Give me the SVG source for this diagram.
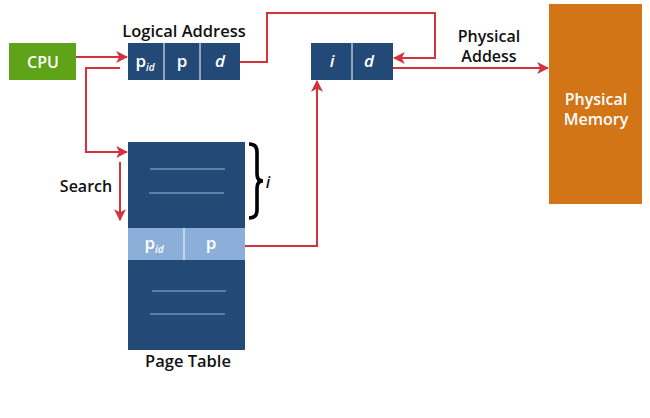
<svg xmlns="http://www.w3.org/2000/svg" width="650" height="418" viewBox="0 0 650 418">
<defs>
<style>
.t{font-family:"Open Sans","Liberation Sans",sans-serif;font-weight:600;fill:#111}
.w{font-family:"Open Sans","Liberation Sans",sans-serif;font-weight:600;fill:#fff}
.dk{fill:#234a76}
.ln{stroke:#d3333d;stroke-width:2;fill:none}
.sep{stroke:#9ab4d4;stroke-width:1.2}
</style>
<marker id="ah" viewBox="0 0 10 10" refX="9" refY="5" markerWidth="12" markerHeight="12" markerUnits="userSpaceOnUse" orient="auto">
<path d="M0,0 L10,5 L0,10 L2.5,5 Z" fill="#d3333d"/>
</marker>
</defs>
<rect width="650" height="418" fill="#fff"/>
<g id="cpu">
<rect x="9" y="43" width="67" height="37" fill="#5fa318"/>
<text class="w" x="43" y="68" font-size="16" text-anchor="middle">CPU</text>
</g>
<g id="logical">
<text class="t" x="184" y="37" font-size="16.5" text-anchor="middle">Logical Address</text>
<rect class="dk" x="128" y="43" width="112" height="37"/>
<line x1="164" y1="43" x2="164" y2="80" stroke="#fff" stroke-width="1"/>
<line x1="200" y1="43" x2="200" y2="80" stroke="#fff" stroke-width="1"/>
<text class="w" x="145" y="67" font-size="17" text-anchor="middle">p<tspan font-size="10" font-style="italic" dy="4">id</tspan></text>
<text class="w" x="182" y="67" font-size="17" text-anchor="middle">p</text>
<text class="w" x="220" y="67" font-size="17" font-style="italic" text-anchor="middle">d</text>
</g>
<g id="physaddr">
<rect class="dk" x="311" y="43" width="82" height="37"/>
<line x1="352" y1="43" x2="352" y2="80" stroke="#fff" stroke-width="1"/>
<text class="w" x="332" y="67" font-size="17" font-style="italic" text-anchor="middle">i</text>
<text class="w" x="369" y="67" font-size="17" font-style="italic" text-anchor="middle">d</text>
<text class="t" x="489" y="42" font-size="16" text-anchor="middle">Physical</text>
<text class="t" x="489" y="62" font-size="16" text-anchor="middle">Addess</text>
</g>
<g id="memory">
<rect x="549" y="4" width="93" height="200" fill="#d27517"/>
<text class="w" x="596" y="105" font-size="16" text-anchor="middle">Physical</text>
<text class="w" x="596" y="125" font-size="16" text-anchor="middle">Memory</text>
</g>
<g id="pagetable">
<rect class="dk" x="128" y="142" width="117" height="208"/>
<rect x="128" y="228" width="117" height="32" fill="#8bafd9"/>
<line x1="184" y1="228" x2="184" y2="260" stroke="#fff" stroke-width="1"/>
<line class="sep" x1="150" y1="169" x2="225" y2="169"/>
<line class="sep" x1="149" y1="193" x2="224" y2="193"/>
<line class="sep" x1="152" y1="291" x2="226" y2="291"/>
<line class="sep" x1="150" y1="314" x2="225" y2="314"/>
<text class="w" x="154" y="249" font-size="17" text-anchor="middle">p<tspan font-size="10" font-style="italic" dy="4">id</tspan></text>
<text class="w" x="211" y="249" font-size="17" text-anchor="middle">p</text>
<text class="t" x="188" y="367" font-size="16.5" text-anchor="middle">Page Table</text>
</g>
<g id="brace">
<path d="M249,144 Q257,144 257,152 L257,174 Q257,181 263,181 Q257,181 257,188 L257,210 Q257,218 249,218" fill="none" stroke="#000" stroke-width="3.6"/>
<text class="t" x="268" y="188" font-size="16" font-style="italic" text-anchor="middle">i</text>
</g>
<g id="search">
<text class="t" x="86" y="192" font-size="16" text-anchor="middle">Search</text>
</g>
<g id="connectors">
<line class="ln" x1="76" y1="57" x2="127" y2="57" marker-end="url(#ah)"/>
<polyline class="ln" points="120,68 86,68 86,152 127,152" marker-end="url(#ah)"/>
<polyline class="ln" points="240,62 267,62 267,13 435,13 435,58 394,58" marker-end="url(#ah)"/>
<line class="ln" x1="393" y1="68" x2="548" y2="68" marker-end="url(#ah)"/>
<polyline class="ln" points="245,246 317,246 317,81" marker-end="url(#ah)"/>
<line class="ln" x1="120" y1="162" x2="120" y2="220" marker-end="url(#ah)"/>
</g>
</svg>
